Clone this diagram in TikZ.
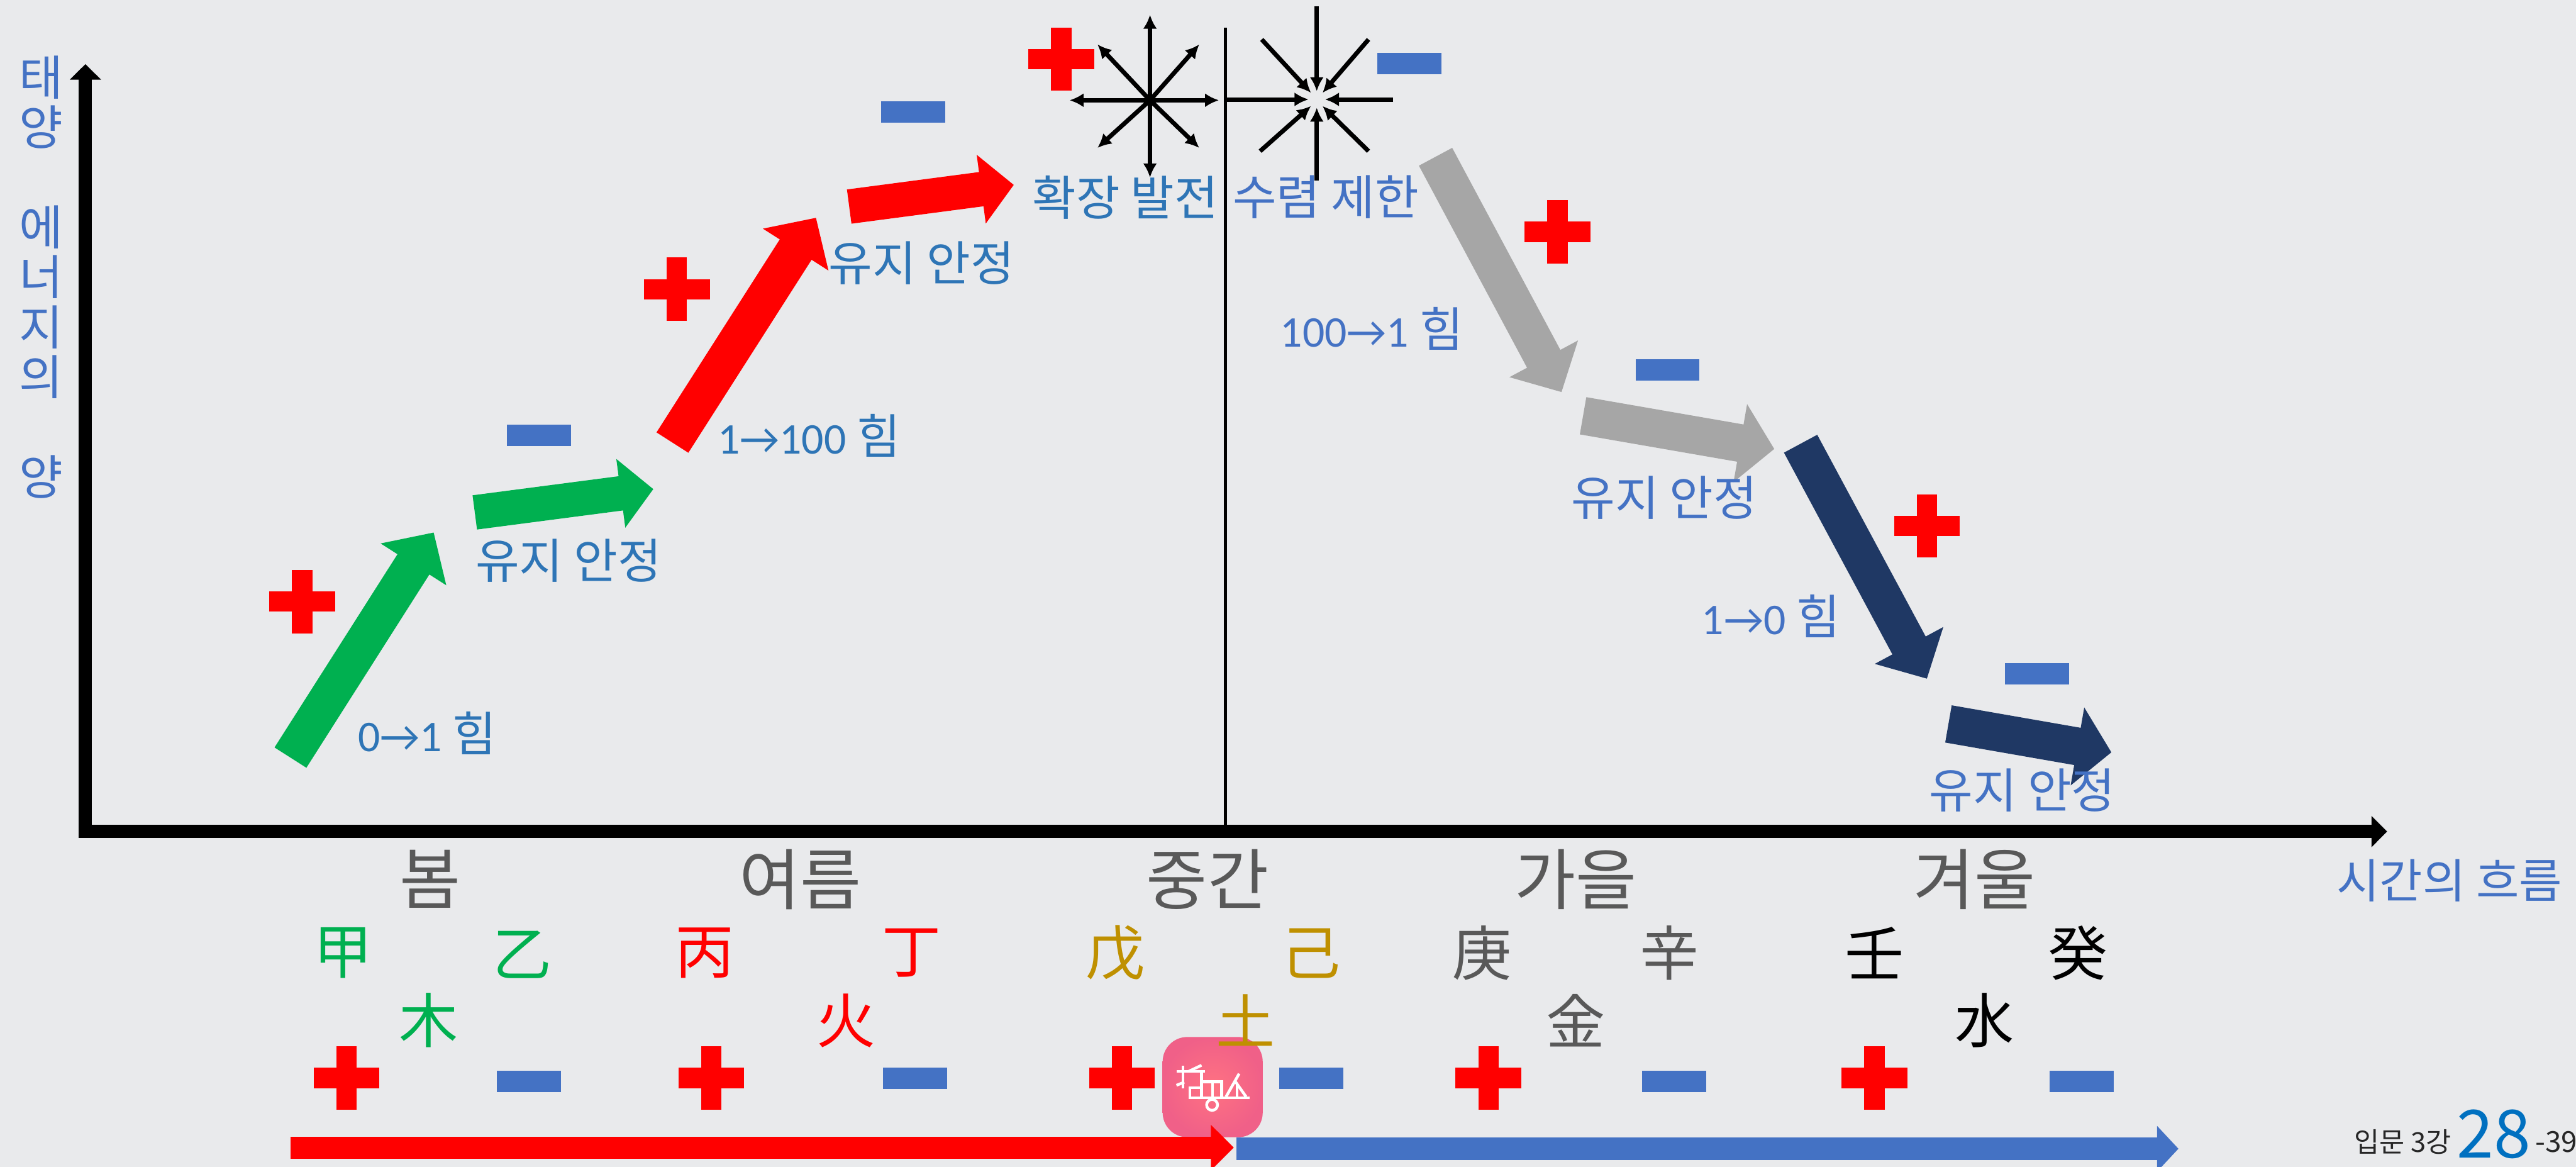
\documentclass[tikz,border=0pt]{standalone}
\usepackage{fontspec}
\usetikzlibrary{arrows.meta}
\setmainfont{Noto Sans CJK KR}
\newfontfamily\digitfont[Scale=0.92]{Carlito}
\definecolor{paper}{HTML}{E9EAEC}
\definecolor{minusblue}{HTML}{4472C4}
\definecolor{textblue}{HTML}{2E75B6}
\definecolor{pageblue}{HTML}{0070C0}
\definecolor{seasongrey}{HTML}{595959}
\definecolor{earthgold}{HTML}{BF9000}
\definecolor{treegreen}{HTML}{00B050}
\definecolor{metalgrey}{HTML}{A6A6A6}
\definecolor{waternavy}{HTML}{1F3864}
\definecolor{iconpink}{HTML}{FF7282}
\definecolor{iconedge}{HTML}{F06088}
\tikzset{
  minusmark/.style={fill=minusblue, minimum width=0.78cm, minimum height=0.26cm, inner sep=0pt, outer sep=0pt},
  plusmark/.pic={
    \fill [red] (-20,-6.2) rectangle (20,6.2);
    \fill [red] (-6.2,-19.3) rectangle (6.2,19.3);
  },
  label/.style={inner sep=0pt, font=\fontsize{16.5}{20}\selectfont},
  season/.style={inner sep=0pt, text=seasongrey, font=\fontsize{23}{26}\selectfont},
  stem/.style={inner sep=0pt, font=\fontsize{20.5}{24}\selectfont},
  steeparrow/.style={line width=0.46cm, -{Triangle[width=0.92cm, length=0.46cm]}},
  flatarrow/.style={line width=0.42cm, -{Triangle[width=0.82cm, length=0.4cm]}},
  midarrow/.style={line width=0.46cm, -{Triangle[width=0.94cm, length=0.42cm]}},
  ray/.style={line width=0.054cm, -{Latex[length=0.17cm, width=0.17cm]}},
  logo/.style={white, line width=0.034cm}
}
\begin{document}
\begin{tikzpicture}[x=0.02cm, y=-0.02cm]
        \useasboundingbox (0,0) rectangle (1568,710);
        \fill [paper] (0,0) rectangle (1568,710);

        % axes
        \coordinate (origin) at (52,506);
        \coordinate (ytop) at (52,39);
        \coordinate (xstart) at (48,506);
        \coordinate (xend) at (1453,506);
        \coordinate (midbase) at (746,503);
        \coordinate (midtop) at (746,17);
        \draw [line width=0.16cm, -{Triangle[width=0.37cm, length=0.19cm]}] (origin) -- (ytop);
        \draw [line width=0.16cm, -{Triangle[width=0.37cm, length=0.19cm]}] (xstart) -- (xend);
        \draw [line width=0.035cm] (midbase) -- (midtop);

        % season arrows
        \coordinate (a1) at (176.8,461);
        \coordinate (a2) at (264,324);
        \coordinate (b1) at (289,311.8);
        \coordinate (b2) at (397.7,297.6);
        \coordinate (c1) at (409.3,269.3);
        \coordinate (c2) at (496.7,132.5);
        \coordinate (d1) at (516.9,125.7);
        \coordinate (d2) at (617.1,112.5);
        \coordinate (e1) at (873.8,95.4);
        \coordinate (e2) at (950.5,238.6);
        \coordinate (f1) at (963.6,253);
        \coordinate (f2) at (1080,273.2);
        \coordinate (g1) at (1096,270);
        \coordinate (g2) at (1172.9,413);
        \coordinate (h1) at (1186,440.5);
        \coordinate (h2) at (1285.2,457.8);
        \draw [steeparrow, treegreen] (a1) -- (a2);
        \draw [flatarrow, treegreen] (b1) -- (b2);
        \draw [steeparrow, red] (c1) -- (c2);
        \draw [flatarrow, red] (d1) -- (d2);
        \draw [steeparrow, metalgrey] (e1) -- (e2);
        \draw [midarrow, metalgrey] (f1) -- (f2);
        \draw [steeparrow, waternavy] (g1) -- (g2);
        \draw [midarrow, waternavy] (h1) -- (h2);

        % spreading star
        \coordinate (outc) at (700,61);
        \coordinate (out1) at (700,9);
        \coordinate (out2) at (730,27);
        \coordinate (out3) at (742,61);
        \coordinate (out4) at (730,90);
        \coordinate (out5) at (700,108);
        \coordinate (out6) at (668,90);
        \coordinate (out7) at (651,61);
        \coordinate (out8) at (668,27);
        \draw [ray] (outc) -- (out1);
        \draw [ray] (outc) -- (out2);
        \draw [ray] (outc) -- (out3);
        \draw [ray] (outc) -- (out4);
        \draw [ray] (outc) -- (out5);
        \draw [ray] (outc) -- (out6);
        \draw [ray] (outc) -- (out7);
        \draw [ray] (outc) -- (out8);

        % gathering star
        \coordinate (in1) at (801.5,55.5);
        \coordinate (in2) at (805,56.5);
        \coordinate (in3) at (806.5,60.5);
        \coordinate (in4) at (805,64.5);
        \coordinate (in5) at (801.5,65.5);
        \coordinate (in6) at (798,64.5);
        \coordinate (in7) at (796.5,60.5);
        \coordinate (in8) at (798,56.5);
        \coordinate (far1) at (801.5,4);
        \coordinate (far2) at (833,24);
        \coordinate (far3) at (848,60.5);
        \coordinate (far4) at (833,92);
        \coordinate (far5) at (801.5,110);
        \coordinate (far6) at (767,92);
        \coordinate (far7) at (746,60.5);
        \coordinate (far8) at (768,24);
        \draw [ray] (far1) -- (in1);
        \draw [ray] (far2) -- (in2);
        \draw [ray] (far3) -- (in3);
        \draw [ray] (far4) -- (in4);
        \draw [ray] (far5) -- (in5);
        \draw [ray] (far6) -- (in6);
        \draw [ray] (far7) -- (in7);
        \draw [ray] (far8) -- (in8);

        % marks along the curve
        \pic at (184,366) {plusmark};
        \pic at (412,176) {plusmark};
        \pic at (646,36) {plusmark};
        \pic at (948,141) {plusmark};
        \pic at (1173,320) {plusmark};
        \node [minusmark] (m1) at (328,265) {};
        \node [minusmark] (m2) at (556,68) {};
        \node [minusmark] (m3) at (858,38.5) {};
        \node [minusmark] (m4) at (1015,225) {};
        \node [minusmark] (m5) at (1240,410) {};

        % curve labels
        \node [label, text=textblue] (l1) at (260,446) {{\digitfont 0→1} 힘};
        \node [label, text=textblue] (l2) at (346,341) {유지 안정};
        \node [label, text=textblue] (l3) at (492.5,265) {{\digitfont 1→100} 힘};
        \node [label, text=textblue] (l4) at (561,160) {유지 안정};
        \node [label, text=textblue] (l5) at (685,120) {확장 발전};
        \node [label, text=minusblue] (l6) at (807,120) {수렴 제한};
        \node [label, text=minusblue] (l7) at (835,200) {{\digitfont 100→1} 힘};
        \node [label, text=minusblue] (l8) at (1013,303) {유지 안정};
        \node [label, text=minusblue] (l9) at (1078,375) {{\digitfont 1→0} 힘};
        \node [label, text=minusblue] (l10) at (1231,481) {유지 안정};
        \node [label, text=minusblue, align=center, font=\fontsize{16.5}{17.3}\selectfont] (ylabel) at (25,168.5) {태\\양\\\ \\에\\너\\지\\의\\\ \\양};
        \node [label, text=minusblue, font=\fontsize{16.2}{18}\selectfont] (xlabel) at (1491,536) {시간의 흐름};

        % seasons
        \node [season] (s1) at (262,535) {봄};
        \node [season] (s2) at (487,535) {여름};
        \node [season] (s3) at (735,535) {중간};
        \node [season] (s4) at (959,535) {가을};
        \node [season] (s5) at (1202,535) {겨울};

        % stems
        \node [stem, text=treegreen] (g1t) at (209,580) {甲};
        \node [stem, text=treegreen] (g2t) at (318,581) {乙};
        \node [stem, text=red] (g3t) at (429,580) {丙};
        \node [stem, text=red] (g4t) at (555,580) {丁};
        \node [stem, text=earthgold] (g5t) at (679,580) {戊};
        \node [stem, text=earthgold] (g6t) at (798,580) {己};
        \node [stem, text=seasongrey] (g7t) at (902,580) {庚};
        \node [stem, text=seasongrey] (g8t) at (1016,580) {辛};
        \node [stem, text=black] (g9t) at (1141,580) {壬};
        \node [stem, text=black] (g10t) at (1265,580) {癸};
        \node [stem, text=treegreen] (e1t) at (261,621) {木};
        \node [stem, text=red] (e2t) at (515,621) {火};
        \node [stem, text=seasongrey] (e4t) at (959,621) {金};
        \node [stem, text=black] (e5t) at (1208,621) {水};

        % icon
        \path [rounded corners=0.3cm, inner color=iconpink, outer color=iconedge] (707.7,631) rectangle (768.6,692);
        \begin{scope}[shift={(662.25,612.6)}, x=0.00221cm, y=-0.00221cm]
          \draw [logo] (488,355) -- (645,355);
          \draw [logo] (522,325) -- (522,448);
          \draw [logo] (487,432) -- (530,415);
          \draw [logo] (555,355) -- (625,322);
          \draw [logo] (560,445) rectangle (625,500);
          \draw [logo] (625,355) -- (625,500);
          \draw [logo] (625,412) -- (735,412) -- (735,500);
          \draw [logo] (685,412) -- (685,500);
          \draw [logo] (555,500) -- (888,500);
          \draw [logo] (683,540) circle (30);
          \draw [logo] (760,495) -- (832,368);
          \draw [logo] (810,410) -- (870,495);
          \draw [logo] (820,420) -- (820,495);
        \end{scope}
        \node [stem, text=earthgold] (e3t) at (758,621) {土};

        % lower marks
        \pic at (211,656) {plusmark};
        \pic at (433,656) {plusmark};
        \pic at (683,656) {plusmark};
        \pic at (906,656) {plusmark};
        \pic at (1141,656) {plusmark};
        \node [minusmark] (n1) at (322,658) {};
        \node [minusmark] (n2) at (557,656) {};
        \node [minusmark] (n3) at (798,656) {};
        \node [minusmark] (n4) at (1019,658) {};
        \node [minusmark] (n5) at (1267,658) {};

        % time bars
        \coordinate (redstart) at (177,698.3);
        \coordinate (redend) at (751,698.3);
        \coordinate (bluestart) at (752.5,699);
        \coordinate (blueend) at (1326,699);
        \draw [line width=0.27cm, minusblue, -{Triangle[width=0.54cm, length=0.26cm]}] (bluestart) -- (blueend);
        \draw [line width=0.27cm, red, -{Triangle[width=0.54cm, length=0.28cm]}] (redstart) -- (redend);

        % page number
        \node [inner sep=0pt, text=black!85, font=\fontsize{9.5}{10}\selectfont] (page1) at (1462.5,695) {입문 3강};
        \node [inner sep=0pt, text=pageblue, font=\fontsize{23}{26}\selectfont] (page2) at (1518,690) {28};
        \node [inner sep=0pt, text=black!85, font=\fontsize{10}{12}\selectfont] (page3) at (1556,695) {-39};
      \end{tikzpicture}
\end{document}
